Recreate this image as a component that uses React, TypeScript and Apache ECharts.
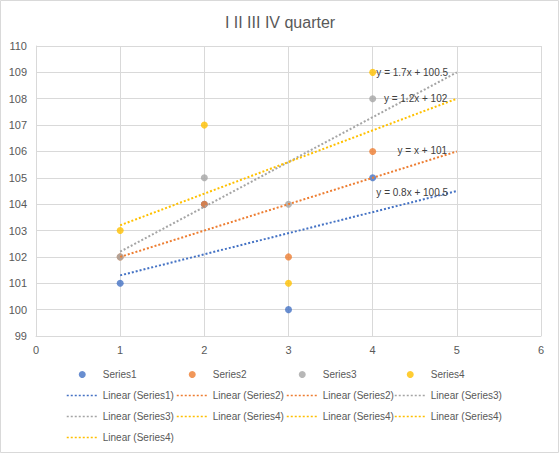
import React, { useEffect, useRef } from "react";
import * as echarts from "echarts";

// Quarter index on the x axis
const quarters = [1, 2, 3, 4];

// Observed values per series
const series1 = [101, 104, 100, 105];
const series2 = [102, 104, 102, 106];
const series3 = [102, 105, 104, 108];
const series4 = [103, 107, 101, 109];

const seriesNames = ["Series1", "Series2", "Series3", "Series4"];
const seriesColors = ["#4472C4", "#ED7D31", "#A5A5A5", "#FFC000"];

// Linear trendlines y = slope * x + intercept, drawn over [trendFrom, trendTo]
const trendSlopes = [0.8, 1, 1.7, 1.2];
const trendIntercepts = [100.5, 101, 100.5, 102];
const trendFrom = 1;
const trendTo = 5;

// Legend entries in reading order (4 per row)
const legendEntries = [
  "Series1", "Series2", "Series3", "Series4",
  "Linear (Series1)", "Linear (Series2)", "Linear (Series2)", "Linear (Series3)",
  "Linear (Series3)", "Linear (Series4)", "Linear (Series4)", "Linear (Series4)",
  "Linear (Series4)",
];

const xTicks = { min: 0, max: 6, interval: 1 };
const yTicks = { min: 99, max: 110, interval: 1 };

const title = "I II III IV quarter";

// Where each equation label sits, in data coordinates (layout only)
const equationAnchor: [number, number][] = [
  [4.47, 104.46],
  [4.59, 106.02],
  [4.47, 108.98],
  [4.51, 107.99],
];

const TEXT = "#595959";
const FONT = "'Liberation Sans', Arial, sans-serif";
const CLEAR = "rgba(0,0,0,0)";

function equationText(slope: number, intercept: number) {
  const s = slope === 1 ? "" : String(slope);
  return `y = ${s}x + ${intercept}`;
}

export default function App() {
  const ref = useRef<HTMLDivElement>(null);

  useEffect(() => {
    document.body.style.margin = "0";
    if (!ref.current) return;
    const chart = echarts.init(ref.current, undefined, { renderer: "svg" });

    const values = [series1, series2, series3, series4];

    const scatterSeries = values.map((vals, i) => ({
      name: seriesNames[i],
      type: "scatter" as const,
      symbol: "circle",
      symbolSize: 7,
      itemStyle: { color: seriesColors[i] },
      data: quarters.map((q, j) => [q, vals[j]]),
      z: 3,
    }));

    const trendSeries = values.map((_, i) => {
      const m = trendSlopes[i];
      const b = trendIntercepts[i];
      return {
        name: `Linear (${seriesNames[i]})`,
        type: "line" as const,
        symbol: "none",
        color: seriesColors[i],
        lineStyle: { color: seriesColors[i], width: 2, type: [2, 2] },
        data: [
          [trendFrom, m * trendFrom + b],
          [trendTo, m * trendTo + b],
        ],
        z: 4,
        silent: true,
        markPoint: {
          silent: true,
          symbol: "circle",
          symbolSize: 1,
          itemStyle: { color: CLEAR },
          label: {
            show: true,
            position: "inside",
            formatter: equationText(m, b),
            color: "#404040",
            fontSize: 10,
            fontFamily: FONT,
          },
          data: [{ coord: equationAnchor[i] }],
        },
      };
    });

    // One vertical legend per column, so repeated entries can be listed
    const columnLeft = [66, 176, 286, 394];
    const legends = columnLeft.map((left, c) => ({
      orient: "vertical" as const,
      left,
      top: 368,
      padding: 0,
      itemGap: 8,
      itemWidth: 31,
      itemHeight: 7,
      selectedMode: false,
      textStyle: { color: TEXT, fontSize: 10, fontFamily: FONT, lineHeight: 13 },
      data: legendEntries
        .filter((_, k) => k % 4 === c)
        .map((name) =>
          name.startsWith("Linear")
            ? {
                name,
                itemStyle: { color: CLEAR, borderColor: CLEAR, borderWidth: 0 },
                lineStyle: { width: 1.5 },
              }
            : { name }
        ),
    }));

    chart.setOption({
      animation: false,
      backgroundColor: "#ffffff",
      textStyle: { fontFamily: FONT },
      title: {
        text: title,
        left: "center",
        top: 14,
        padding: 0,
        textStyle: { color: TEXT, fontSize: 16, fontWeight: "normal", fontFamily: FONT },
      },
      grid: { left: 36, right: 19, top: 46, bottom: 118, containLabel: false },
      xAxis: {
        type: "value",
        ...xTicks,
        axisLine: { show: true, lineStyle: { color: "#D9D9D9" } },
        axisTick: { show: false },
        splitLine: { show: true, lineStyle: { color: "#D9D9D9" } },
        axisLabel: { color: TEXT, fontSize: 11, margin: 8, fontFamily: FONT },
      },
      yAxis: {
        type: "value",
        ...yTicks,
        axisLine: { show: true, lineStyle: { color: "#D9D9D9" } },
        axisTick: { show: false },
        splitLine: { show: true, lineStyle: { color: "#D9D9D9" } },
        axisLabel: { color: TEXT, fontSize: 11, margin: 9, fontFamily: FONT },
      },
      legend: legends,
      graphic: [
        {
          type: "rect",
          shape: { x: 0.5, y: 0.5, width: 558, height: 452 },
          style: { fill: "none", stroke: "#D9D9D9", lineWidth: 1 },
          silent: true,
        },
      ],
      series: [...scatterSeries, ...trendSeries],
    });

    return () => chart.dispose();
  }, []);

  return <div ref={ref} style={{ width: 560, height: 454 }} />;
}
